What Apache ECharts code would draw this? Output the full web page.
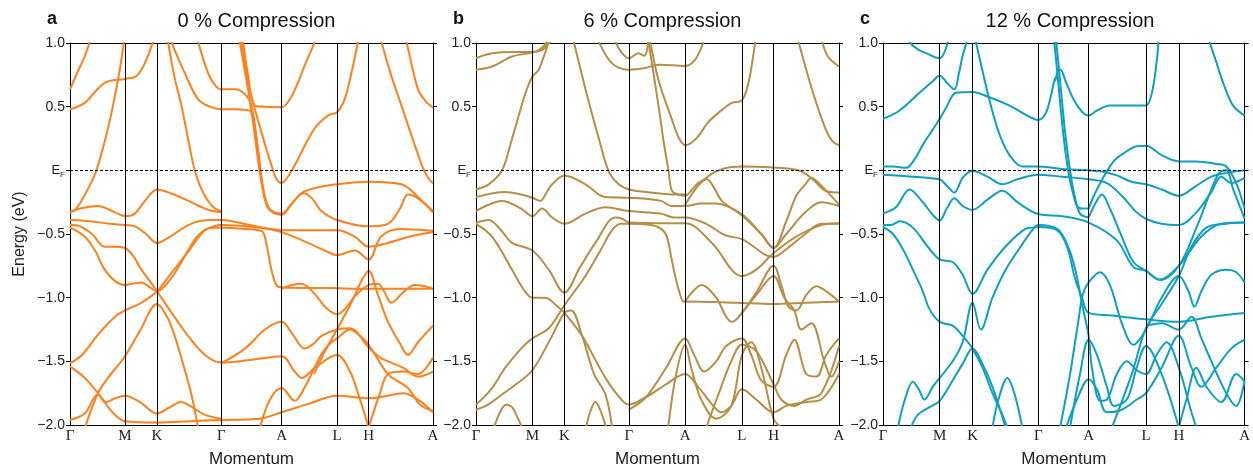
<!DOCTYPE html>
<html>
<head>
<meta charset="utf-8">
<script src="https://cdn.jsdelivr.net/npm/echarts@6/dist/echarts.min.js"></script>
<style>
html,body{margin:0;padding:0;background:#fff;}
#app{width:1253px;height:473px;}
</style>
</head>
<body>
<div id="app"></div>
<script>
// high symmetry points along the k-path (path length in panel units)
const kLabels=['Γ','M','K','Γ','A','L','H','A'];
const kPosA=[0,55,87,151.3,211.6,267,298.7,363];
const kPosB=[0,56.3,88.3,152.7,209,265.7,297.3,362.7];
const kPosC=[0,57,90,156,206.7,264.3,297.3,363.4];
const yTicks=[-2,-1.5,-1,-0.5,0,0.5,1];
const titles=['0 % Compression','6 % Compression','12 % Compression'];
const letters=['a','b','c'];

// bands, [k, E(eV)]
const bandsA=[
    [[0,0.636],[8,0.78],[14.7,0.894],[19.7,1.01],[22,1.1]],
    [[0,0.48],[14.7,0.53],[34.7,0.687],[55,0.718],[66.4,0.74],[74.7,0.84],[83,1.01],[85,1.1]],
    [[0,-0.33],[5,-0.31],[11.4,-0.24],[19,-0.13],[26.4,0],[38,0.33],[48,0.71],[54,1.01],[55,1.1]],
    [[0,-0.33],[10,-0.3],[28,-0.28],[45,-0.33],[55,-0.36],[63,-0.35],[75,-0.24],[87,-0.15],[104,-0.19],[121,-0.25],[138,-0.31],[151.3,-0.33]],
    [[96,1.1],[98,1.01],[104,0.75],[111.4,0.51],[118,0.25],[124.7,0],[131,-0.14],[138,-0.24],[145,-0.3],[151.3,-0.32]],
    [[99,1.1],[101.4,1.01],[114.7,0.765],[128,0.56],[140,0.5],[151.3,0.48],[164.7,0.48],[174.7,0.475],[181.4,0.456],[186.4,0.25],[191.4,-0.06],[198,-0.29],[205,-0.33],[211.6,-0.34],[222,-0.26],[233,-0.18],[242,-0.22],[251.4,-0.32],[267,-0.39],[298.7,-0.44],[318,-0.42],[330,-0.3],[338,-0.19],[348,-0.22],[363,-0.32]],
    [[125,1.1],[128,1.01],[138,0.765],[145,0.67],[151.3,0.636],[164.7,0.636],[174.7,0.6],[181.4,0.51],[188,0.17],[194.7,-0.21],[203,-0.33],[211.6,-0.34]],
    [[168,1.1],[169.7,1.01],[178,0.64],[183,0.38],[189.7,-0.01],[196.4,-0.27],[203,-0.33],[211.6,-0.35],[220,-0.28],[231.4,-0.18],[244.7,-0.14],[267,-0.11],[298.7,-0.09],[331.4,-0.11],[348,-0.21],[363,-0.33]],
    [[171,1.1],[173,1.01],[178,0.75],[184.7,0.51],[195,0.5],[211.6,0.495],[220,0.56],[228,0.69],[236,0.85],[244.7,1.01],[247,1.1]],
    [[169,1.1],[171.4,1.01],[179.7,0.64],[191.4,0.3],[201.4,0.04],[206,-0.06],[211.6,-0.1],[217,-0.06],[224.7,0.04],[244.7,0.33],[258,0.43],[267,0.456],[274.7,0.56],[281,0.75],[288,1.01],[290,1.1]],
    [[309,1.1],[311.4,1.01],[321,0.75],[331.4,0.51],[344.7,0.2],[354,0],[360,-0.08],[363,-0.1]],
    [[333,1.1],[336.4,1.01],[348,0.636],[356,0.54],[363,0.495]],
    [[0,-0.39],[20,-0.4],[40,-0.42],[55,-0.43],[65,-0.44],[76,-0.5],[87,-0.57],[100,-0.52],[121,-0.42],[140,-0.39],[151.3,-0.39],[180,-0.43],[200,-0.46],[211.6,-0.47],[240,-0.47],[267,-0.47],[284.7,-0.52],[298.7,-0.6],[318,-0.57],[340,-0.52],[363,-0.485]],
    [[0,-0.45],[14.7,-0.52],[25,-0.63],[34.7,-0.78],[45,-0.87],[55,-0.9],[63,-0.89],[71.4,-0.88],[80,-0.92],[87,-0.95],[100,-0.86],[110,-0.74],[118,-0.63],[126,-0.53],[134.7,-0.47],[151.3,-0.43],[190,-0.45],[211.6,-0.485],[238,-0.57],[255,-0.63],[267,-0.665],[284.7,-0.63],[298.7,-0.7],[311,-0.52],[330,-0.46],[363,-0.475]],
    [[0,-0.43],[10,-0.44],[22,-0.5],[34.7,-0.6],[45,-0.6],[55,-0.61],[63,-0.67],[71.4,-0.78],[80,-0.87],[87,-0.95],[100,-1.1],[118,-1.3],[135,-1.45],[151.3,-1.51],[180,-1.49],[211.6,-1.46],[224.7,-1.58],[232,-1.63],[245,-1.55],[267,-1.45],[280,-1.58],[290,-1.8],[298.7,-2.02]],
    [[0,-1.515],[12,-1.45],[28,-1.29],[45,-1.15],[55,-1.1],[71.4,-1.04],[87,-0.95],[100,-0.82],[118,-0.64],[134.7,-0.47],[145,-0.45],[151.3,-0.45],[175,-0.46],[192,-0.48],[196.4,-0.58],[201.4,-0.78],[206.4,-0.9],[211.6,-0.92],[260,-0.925],[298.7,-0.93],[330,-0.93],[363,-0.93]],
    [[15,-2.02],[28,-1.75],[38,-1.63],[55,-1.46],[70,-1.26],[87,-1.05],[97,-1.15],[104.7,-1.3],[113,-1.52],[121.4,-1.76],[128,-2.02]],
    [[0,-1.54],[14.7,-1.63],[28,-1.75],[36.3,-1.84],[45,-1.92],[55,-1.97],[87,-1.98],[120,-1.97],[151.3,-1.96],[190,-1.95],[211.6,-1.9],[240,-1.83],[267,-1.77],[298.7,-1.79],[318,-1.77],[333,-1.75],[348,-1.8],[363,-1.9]],
    [[0,-1.96],[14.7,-1.91],[28,-1.76],[36,-1.82],[45,-1.79],[55,-1.77],[70,-1.82],[87,-1.91],[100,-1.86],[111.4,-1.82],[120,-1.85],[135,-1.92],[151.3,-1.95]],
    [[211.6,-0.93],[222,-0.9],[231.4,-0.89],[244.7,-0.97],[256,-1.08],[267,-1.13],[277,-1.07],[284.7,-0.99],[298.7,-0.9],[308,-0.89],[314,-0.95],[321.4,-1.04],[333,-0.96],[344.7,-0.9],[355,-0.91],[363,-0.93]],
    [[244,-1.6],[255,-1.42],[267,-1.25],[281.4,-1.04],[292,-0.86],[298.7,-0.79],[308,-0.98],[318,-1.19],[330,-1.36],[338,-1.45],[348,-1.35],[363,-1.22]],
    [[151.3,-1.515],[175,-1.4],[195,-1.25],[211.6,-1.19],[222,-1.28],[234.7,-1.4],[244,-1.36],[251.4,-1.3],[267,-1.25],[280,-1.24],[298.7,-1.39],[310,-1.47],[318,-1.5],[333,-1.55],[348,-1.62],[363,-1.58]],
    [[298.7,-2.02],[310,-1.75],[318,-1.6],[333,-1.58],[348,-1.6],[363,-1.47]],
    [[190,-2.02],[200,-1.8],[211.6,-1.71],[224.7,-1.81],[235,-1.7],[251,-1.45],[260,-1.36],[267,-1.32],[280,-1.25],[290,-1.3],[298.7,-1.37],[318,-1.6],[338,-1.71],[350,-1.84],[363,-1.89]]
];

const bandsB=[
    [[0,0.881],[16,0.92],[39.3,0.93],[56.3,0.93],[66,0.945],[72,0.99],[74.3,1.01],[76,1.1]],
    [[0,0.79],[16,0.815],[36,0.894],[56.3,0.925],[64,0.95],[70,1.0],[72,1.1]],
    [[0,-0.15],[12.7,-0.11],[26,0],[35,0.22],[42.7,0.43],[50,0.62],[56.3,0.734],[62.7,0.79],[67,0.88],[71,0.97],[73,1.1]],
    [[95,1.1],[97.7,1.01],[109.3,0.64],[116,0.44],[122.7,0.25],[132.7,-0.01],[142.7,-0.11],[152.7,-0.15],[170,-0.17],[182,-0.18],[195.7,-0.19],[209,-0.19]],
    [[137,1.1],[139.3,1.01],[146,0.92],[152.7,0.88],[162.3,0.92],[168,0.9],[171,0.95],[173,1.1]],
    [[120,1.1],[122.7,1.01],[136,0.84],[152.7,0.79],[169,0.803],[176,0.82],[182.3,0.83],[209,0.82],[219,0.87],[227.3,1.01],[229,1.1]],
    [[170,1.1],[172.3,1.01],[182.3,0.51],[187,0.25],[192.3,0],[195.7,-0.16],[202,-0.19],[209,-0.2],[216,-0.15],[222,-0.1],[230.7,-0.07],[238,-0.14],[245.7,-0.24],[265.7,-0.355],[285,-0.5],[297.3,-0.61],[310,-0.4],[320,-0.2],[329,-0.11],[335,-0.06],[345,-0.12],[362.7,-0.27]],
    [[172,1.1],[174,1.01],[182.3,0.71],[195.7,0.4],[203,0.25],[209,0.197],[220,0.25],[232.3,0.38],[245,0.47],[255.7,0.53],[265.7,0.55],[272.3,0.69],[277,0.9],[279,1.01],[280,1.1]],
    [[320,1.1],[322.3,1.01],[335.7,0.636],[349,0.33],[356,0.23],[362.7,0.197]],
    [[343,1.1],[345.7,1.01],[352,0.89],[362.7,0.816]],
    [[209,-0.27],[222,-0.12],[235,-0.03],[249,0.017],[265.7,0.03],[297.3,0.022],[322,0],[335,-0.06],[349,-0.16],[362.7,-0.175]],
    [[0,-0.21],[29.3,-0.17],[45,-0.19],[56.3,-0.215],[64.3,-0.24],[70,-0.18],[76,-0.11],[88.3,-0.04],[109.3,-0.11],[129.3,-0.21],[152.7,-0.215],[185,-0.24],[195,-0.28],[209,-0.28],[225,-0.26],[240,-0.26],[265.7,-0.345],[285,-0.5],[297.3,-0.61],[310,-0.5],[329,-0.33],[345,-0.25],[362.7,-0.28]],
    [[0,-0.32],[26,-0.24],[45,-0.3],[56.3,-0.36],[66,-0.3],[76,-0.37],[88.3,-0.42],[109.3,-0.34],[129.3,-0.29],[152.7,-0.32],[185,-0.34],[197,-0.37],[209,-0.37],[230,-0.42],[249,-0.51],[265.7,-0.54],[297.3,-0.68],[310,-0.62],[329,-0.5],[345,-0.42],[362.7,-0.42]],
    [[0,-0.41],[12.7,-0.39],[25,-0.47],[36,-0.57],[56.3,-0.63],[72.7,-0.78],[88.3,-0.96],[104,-0.76],[119.3,-0.57],[139.3,-0.37],[146,-0.38],[152.7,-0.41],[180,-0.415],[209,-0.415],[235.7,-0.57],[265.7,-0.83],[280,-0.78],[297.3,-0.65],[320,-0.52],[345,-0.43],[362.7,-0.415]],
    [[0,-0.42],[16,-0.52],[36,-0.78],[48,-0.94],[56.3,-1.0],[66,-1.0],[72.7,-1.01],[80,-1.06],[88.3,-1.12],[106,-1.3],[120,-1.5],[129.3,-1.63],[140,-1.75],[152.7,-1.84],[170,-1.78],[190,-1.68],[209,-1.6],[222,-1.7],[235,-1.83],[245,-1.9],[255,-1.85],[265.7,-1.72],[280,-1.8],[297.3,-1.9],[310,-1.85],[330,-1.82],[345,-1.8],[362.7,-1.6]],
    [[0,-1.84],[15,-1.72],[29.3,-1.55],[45,-1.4],[56.3,-1.32],[72.7,-1.24],[88.3,-1.06],[109.3,-0.83],[125,-0.62],[136,-0.47],[145,-0.42],[152.7,-0.42],[175,-0.43],[185,-0.46],[190.7,-0.52],[195,-0.68],[199,-0.83],[203,-0.95],[207.3,-1.03],[209,-1.03],[260,-1.04],[297.3,-1.05],[330,-1.04],[362.7,-1.03]],
    [[0,-1.88],[12,-1.84],[26,-1.76],[40,-1.68],[56.3,-1.57],[72.7,-1.35],[88.3,-1.12],[95,-1.1],[106,-1.3],[118,-1.6],[129.3,-1.76],[136,-2.02]],
    [[18,-2.02],[24,-1.9],[30,-1.84],[36,-1.86],[42,-1.95],[46,-2.02]],
    [[110,-2.02],[114,-1.9],[119.3,-1.82],[124,-1.88],[130,-2.02]],
    [[152.7,-1.88],[170,-1.78],[190,-1.55],[209,-1.32],[218,-1.45],[228,-1.58],[240,-1.5],[250,-1.38],[265.7,-1.32],[275,-1.45],[285,-1.65],[297.3,-1.7],[310,-1.45],[318,-1.33],[330,-1.6],[340,-1.62],[350,-1.45],[362.7,-1.32]],
    [[192,-2.02],[200,-1.6],[209,-1.37],[215,-1.55],[225,-1.8],[240,-1.95],[255,-1.85],[265.7,-1.45],[275,-1.35],[285,-1.55],[297.3,-1.95],[305,-2.02]],
    [[230,-2.02],[245,-1.7],[255,-1.5],[265.7,-1.37],[280,-1.42],[297.3,-1.68],[305,-1.8],[318,-1.85],[330,-1.8],[345,-1.75],[362.7,-1.38]],
    [[265.7,-1.12],[280,-0.98],[297.3,-0.83],[308,-1.0],[318,-1.1],[325,-1.25],[335,-1.2],[348,-1.5],[355,-1.62],[362.7,-1.5]],
    [[209,-1.03],[225.7,-0.9],[240,-1.0],[250,-1.15],[255.7,-1.19],[265.7,-1.12],[280,-0.96],[297.3,-0.75],[305,-0.9],[312,-1.07],[320,-1.1],[330,-0.98],[340,-0.91],[350,-0.95],[362.7,-1.03]]
];

const bandsC=[
    [[24,1.1],[26.7,1.01],[35,0.95],[43.3,0.92],[57,0.88],[62,0.93],[65,1.01],[66,1.1]],
    [[0,0.404],[16.7,0.47],[36.7,0.61],[50,0.7],[57,0.744],[64,0.69],[71.7,0.636],[76,0.75],[80,0.9],[84,1.01],[85,1.1]],
    [[0,0.03],[10,0.03],[23.3,0.02],[32,0.09],[40,0.2],[50,0.32],[57,0.404],[64,0.5],[73.3,0.61],[90,0.615],[105,0.58],[126.7,0.51],[145,0.43],[156,0.396],[163,0.44],[168,0.56],[172,0.7],[173.5,0.73]],
    [[91,1.1],[93.3,1.01],[106.7,0.56],[115,0.33],[123.3,0.17],[132,0.07],[140,0.03],[156,0.03],[180,0.01],[206.7,0],[220,-0.01],[235,-0.04],[250,-0.09],[264.3,-0.11],[280,-0.15],[297.3,-0.2],[315,-0.12],[330,-0.05],[345,-0.02],[363.4,0]],
    [[0,-0.034],[30,-0.05],[57,-0.072],[64,-0.12],[71.7,-0.175],[80,-0.06],[90,-0.003],[105,-0.05],[120,-0.11],[135,-0.07],[156,-0.034],[180,-0.05],[206.7,-0.07],[225,-0.1],[240,-0.2],[255,-0.33],[264.3,-0.38],[280,-0.42],[297.3,-0.43],[315,-0.33],[330,-0.17],[340,-0.05],[350,-0.1],[363.4,-0.06]],
    [[206.7,-0.3],[215,-0.15],[231.7,0.07],[245,0.15],[255,0.19],[264.3,0.193],[280,0.12],[297.3,0.07],[315,0.07],[335,0.05],[345,0.03],[355,-0.1],[363.4,-0.3]],
    [[206.7,-0.37],[214,-0.25],[220,-0.19],[228,-0.3],[240,-0.52],[251.7,-0.72],[264.3,-0.79],[278.3,-0.86],[297.3,-0.75],[315,-0.45],[330,-0.15],[338,-0.02],[345,0],[352,-0.15],[363.4,-0.38]],
    [[170,1.1],[172,1.01],[176,0.7],[181,0.3],[186,0],[190,-0.15],[195,-0.28],[200,-0.3],[206.7,-0.3]],
    [[172,1.1],[174,1.01],[178,0.7],[183,0.3],[188,0],[192,-0.18],[198,-0.34],[206.7,-0.37]],
    [[173,0.7],[176,0.78],[178.3,0.79],[184,0.69],[192,0.55],[200,0.46],[206.7,0.43],[215,0.47],[228,0.51],[250,0.51],[264.3,0.51],[270,0.6],[275,0.85],[277,1.01],[278,1.1]],
    [[326,1.1],[328.3,1.01],[335,0.85],[341.7,0.69],[351.7,0.51],[363.4,0.43]],
    [[0,-0.338],[13,-0.29],[26.7,-0.15],[40,-0.25],[50,-0.35],[57,-0.395],[64,-0.3],[71.7,-0.22],[80,-0.28],[90,-0.31],[105,-0.23],[120,-0.16],[135,-0.25],[156,-0.343],[180,-0.36],[206.7,-0.41],[235,-0.55],[251.7,-0.76],[264.3,-0.79],[278.3,-0.86],[297.3,-0.75],[320,-0.52],[340,-0.42],[363.4,-0.41]],
    [[0,-0.43],[8,-0.43],[17,-0.4],[30,-0.45],[45,-0.6],[57,-0.7],[70,-0.72],[80,-0.82],[90,-0.97],[105,-0.78],[123,-0.6],[143,-0.46],[150,-0.45],[156,-0.445],[175,-0.47],[185,-0.6],[193,-0.85],[200,-1.0],[206.7,-1.12],[230,-1.14],[264.3,-1.17],[297.3,-1.19],[330,-1.15],[363.4,-1.12]],
    [[0,-0.445],[10,-0.5],[20,-0.62],[30,-0.78],[40,-0.95],[46.7,-1.09],[57,-1.19],[70,-1.22],[80,-1.3],[90,-1.4],[100,-1.55],[110,-1.75],[120,-1.92],[125,-2.02]],
    [[15,-2.02],[22,-1.8],[30,-1.66],[36,-1.72],[41.7,-1.8],[50,-1.7],[57,-1.63],[70,-1.5],[80,-1.35],[90,-1.04],[98.3,-1.25],[110,-1.0],[123.3,-0.78],[140,-0.58],[150,-0.47],[156,-0.43],[175,-0.46],[185,-0.58],[193.3,-0.78],[200,-1.05],[206.7,-1.3],[210,-1.55],[218.3,-1.81],[225,-1.8],[235,-1.6],[245,-1.5],[255,-1.57],[264.3,-1.6],[275,-1.45],[285,-1.35],[297.3,-1.55],[310,-1.9],[315,-2.02]],
    [[28,-2.02],[35,-1.92],[46.7,-1.86],[57,-1.81],[70,-1.65],[80,-1.52],[90,-1.4],[100,-1.52],[110,-1.7],[123.3,-2.02]],
    [[110,-2.02],[116,-1.8],[125,-1.63],[132,-1.75],[140,-2.02]],
    [[178,-2.02],[188,-1.6],[196,-1.2],[201,-0.97],[206.7,-0.88],[218,-0.8],[228,-0.9],[240,-1.2],[251.7,-1.37],[264.3,-1.25],[280,-1.0],[297.3,-0.83],[307,-0.95],[313,-1.07],[320,-0.95],[330,-0.82],[345,-0.78],[355,-0.8],[363.4,-0.88]],
    [[188,-2.02],[198,-1.6],[206.7,-1.33],[215,-1.45],[225,-1.7],[232,-1.85],[245,-1.8],[255,-1.55],[264.3,-1.38],[280,-1.6],[297.3,-2.02]],
    [[184,-2.02],[196,-1.78],[206.7,-1.64],[215,-1.72],[225,-1.9],[240,-1.88],[255,-1.8],[264.3,-1.75],[280,-1.55],[297.3,-1.3],[310,-1.55],[320,-1.7],[335,-1.55],[350,-1.4],[363.4,-1.33]],
    [[230,-2.02],[250,-1.6],[264.3,-1.24],[280,-1.05],[297.3,-0.83],[310,-0.6],[325,-0.45],[345,-0.42],[363.4,-0.41]],
    [[264.3,-1.22],[280,-1.2],[297.3,-1.25],[310,-1.15],[320,-1.32],[330,-1.5],[345,-1.75],[355,-1.85],[363.4,-1.65]],
    [[297.3,-2.02],[305,-1.8],[315,-1.55],[325,-1.7],[340,-1.82],[355,-1.6],[363.4,-1.66]]
];

const panelBands=[bandsA,bandsB,bandsC];
const panelK=[kPosA,kPosB,kPosC];
const colors=['#ff801c','#b58e48','#0ea0bf'];
const grids=[
    {left:70,top:43,width:363,height:388},
    {left:476,top:43,width:363,height:388},
    {left:883,top:43,width:364,height:388}
];

const chart=echarts.init(document.getElementById('app'));
let xAxes=[],yAxes=[],series=[],titleList=[];

grids.forEach(function(g,i){
    const kPos=panelK[i];
    xAxes.push({
        type:'value',gridIndex:i,min:0,max:kPos[kPos.length-1],
        name:'Momentum',nameLocation:'middle',nameGap:26,
        nameTextStyle:{fontFamily:'Liberation Sans',fontSize:17,color:'#222'},
        axisLine:{onZero:false,lineStyle:{color:'#000',width:1}},
        axisTick:{show:false},
        splitLine:{show:false},
        axisLabel:{
            customValues:kPos,margin:4,
            fontFamily:'Liberation Serif',fontSize:15,color:'#222',
            formatter:function(v){
                let j=kPos.indexOf(v);
                return j<0?'':kLabels[j];
            }
        }
    });
    xAxes.push({
        type:'value',gridIndex:i,position:'top',min:0,max:kPos[kPos.length-1],
        axisLine:{onZero:false,lineStyle:{color:'#000',width:1}},
        axisTick:{show:false},axisLabel:{show:false},splitLine:{show:false}
    });
    yAxes.push({
        type:'value',gridIndex:i,min:-2,max:1,interval:0.5,
        name:i===0?'Energy (eV)':'',nameLocation:'middle',nameGap:42,
        nameTextStyle:{fontFamily:'Liberation Sans',fontSize:16,color:'#222'},
        axisLine:{show:true,onZero:false,lineStyle:{color:'#000',width:1}},
        axisTick:{show:true,length:4,lineStyle:{color:'#000'}},
        splitLine:{show:false},
        axisLabel:{
            margin:5,fontFamily:'Liberation Sans',fontSize:14,color:'#222',
            formatter:function(v){
                if(v===0) return '{e|E}{f|F}';
                return (v<0?'\u2212':'')+Math.abs(v).toFixed(1);
            },
            rich:{
                e:{fontFamily:'Liberation Sans',fontSize:13,color:'#222'},
                f:{fontFamily:'Liberation Sans',fontSize:8,color:'#222',padding:[9,0,0,0]}
            }
        }
    });
    yAxes.push({
        type:'value',gridIndex:i,position:'right',min:-2,max:1,interval:0.5,
        axisLine:{show:true,onZero:false,lineStyle:{color:'#000',width:1}},
        axisTick:{show:true,length:4,lineStyle:{color:'#000'}},
        axisLabel:{show:false},splitLine:{show:false}
    });

    panelBands[i].forEach(function(b){
        series.push({
            type:'line',xAxisIndex:i*2,yAxisIndex:i*2,data:b,
            smooth:0.35,showSymbol:false,silent:true,animation:false,
            lineStyle:{color:colors[i],width:2}
        });
    });

    // vertical k-point lines
    series.push({
        type:'line',xAxisIndex:i*2,yAxisIndex:i*2,data:[],z:5,
        markLine:{
            symbol:['none','none'],silent:true,animation:false,label:{show:false},
            lineStyle:{type:'solid',color:'#000',width:1},
            data:kPos.slice(1,-1).map(function(v){return {xAxis:v};})
        }
    });
    // Fermi level
    series.push({
        type:'line',xAxisIndex:i*2,yAxisIndex:i*2,data:[],z:6,
        markLine:{
            symbol:['none','none'],silent:true,animation:false,label:{show:false},
            lineStyle:{type:[3,2],color:'#000',width:1},
            data:[{yAxis:0}]
        }
    });

    titleList.push({
        text:titles[i],left:g.left+g.width/2,top:6,textAlign:'center',
        textStyle:{fontFamily:'Liberation Sans',fontSize:20,fontWeight:'normal',color:'#111'}
    });
    titleList.push({
        text:letters[i],left:g.left-28,top:5,
        textStyle:{fontFamily:'Liberation Sans',fontSize:18,fontWeight:'bold',color:'#111'}
    });
});

chart.setOption({
    animation:false,
    backgroundColor:'#fff',
    title:titleList,
    grid:grids,
    xAxis:xAxes,
    yAxis:yAxes,
    series:series
});
</script>
</body>
</html>
